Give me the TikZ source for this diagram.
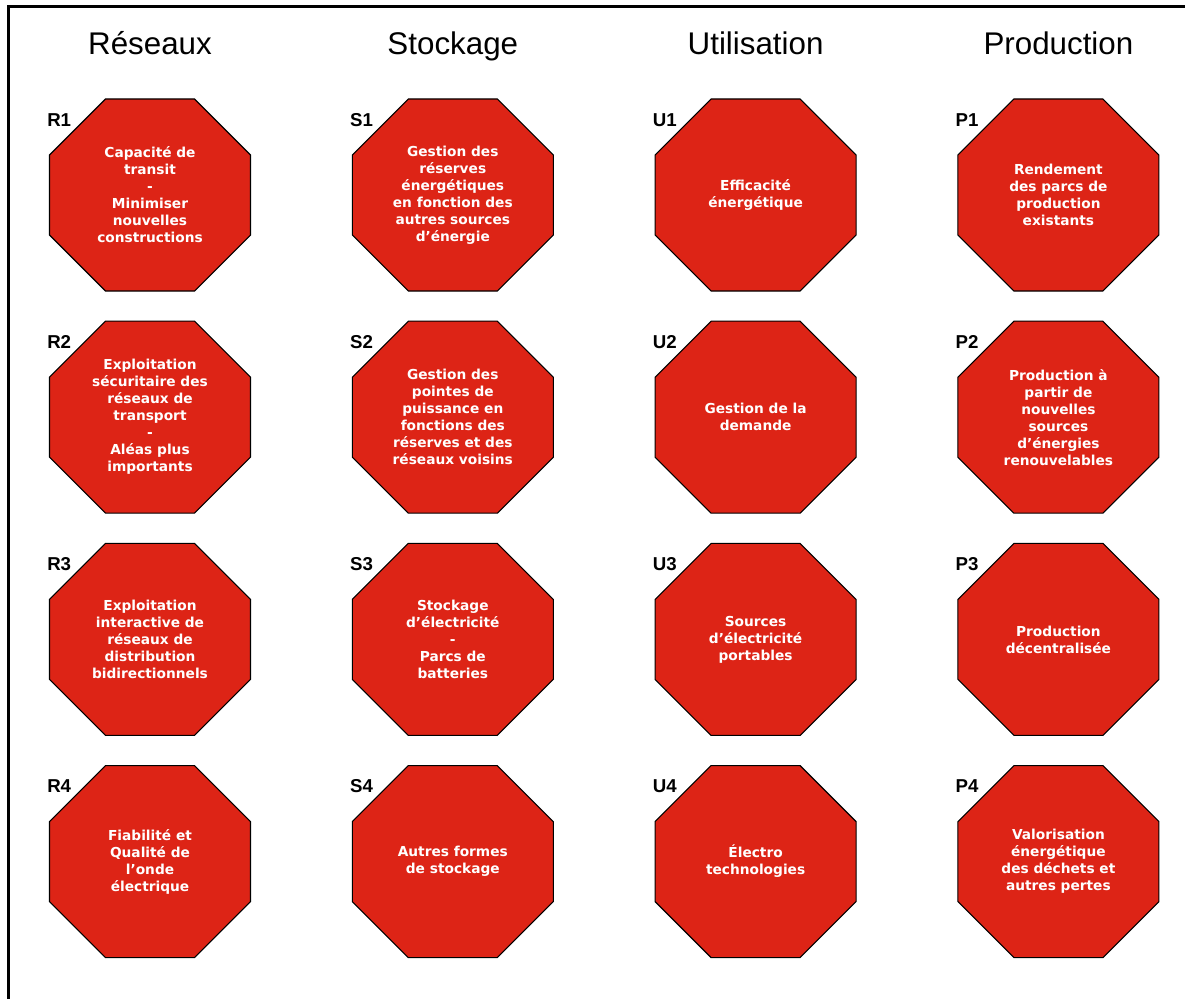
\documentclass[tikz,border=0pt]{standalone}
\usepackage{fontspec}
\setmainfont{Liberation Sans}
\newfontfamily\verd{DejaVu Sans}
\definecolor{stopred}{RGB}{221,36,22}
\tikzset{
  octo/.style={fill=stopred,draw=black,line width=0.8pt},
  goal/.style={text=white,align=center,inner sep=0pt,font=\verd\bfseries\fontsize{10.3}{12.75}\selectfont},
  tag/.style={anchor=base west,inner sep=0pt,font=\bfseries\fontsize{14}{16}\selectfont},
  head/.style={anchor=base,inner sep=0pt,font=\fontsize{23.5}{28}\selectfont},
}
\begin{document}
\begin{tikzpicture}[x=0.75pt,y=-0.75pt]
  \useasboundingbox (0,0) rectangle (1185,999);
  % Frame
  \draw[line width=1.6pt] (8.5,999) |- (1185,6.5);
  % Headings
  \node[head] (hres) at (150,55) {Réseaux};
  \node[head] (hsto) at (452.8,55) {Stockage};
  \node[head] (huti) at (755.6,55) {Utilisation};
  \node[head] (hpro) at (1058.4,55) {Production};
  % Octagons
  \foreach \cx in {150,452.8,755.6,1058.4}
    \foreach \cy in {195,417.2,639.4,861.6}
      \draw[octo] (\cx,\cy) ++(-44.5,-96) -- ++(89,0) -- ++(56,56) -- ++(0,80)
        -- ++(-56,56) -- ++(-89,0) -- ++(-56,-56) -- ++(0,-80) -- cycle;
  % Tags
  \foreach \cx/\l in {150/R,452.8/S,755.6/U,1058.4/P}
    \foreach \cy/\n in {195/1,417.2/2,639.4/3,861.6/4}
      \node[tag] (\l\n tag) at (\cx-103,\cy-69) {\l\n};
  % Reseaux
  \node[goal] (r1) at (150,195) {Capacité de\\transit\\-\\Minimiser\\nouvelles\\constructions};
  \node[goal] (r2) at (150,417.2) {Exploitation\\sécuritaire des\\réseaux de\\transport\\-\\Aléas plus\\importants};
  \node[goal] (r3) at (150,639.4) {Exploitation\\interactive de\\réseaux de\\distribution\\bidirectionnels};
  \node[goal] (r4) at (150,861.6) {Fiabilité et\\Qualité de\\l’onde\\électrique};
  % Stockage
  \node[goal] (s1) at (452.8,195) {Gestion des\\réserves\\énergétiques\\en fonction des\\autres sources\\d’énergie};
  \node[goal] (s2) at (452.8,417.2) {Gestion des\\pointes de\\puissance en\\fonctions des\\réserves et des\\réseaux voisins};
  \node[goal] (s3) at (452.8,639.4) {Stockage\\d’électricité\\-\\Parcs de\\batteries};
  \node[goal] (s4) at (452.8,861.6) {Autres formes\\de stockage};
  % Utilisation
  \node[goal] (u1) at (755.6,195) {Efficacité\\énergétique};
  \node[goal] (u2) at (755.6,417.2) {Gestion de la\\demande};
  \node[goal] (u3) at (755.6,639.4) {Sources\\d’électricité\\portables};
  \node[goal] (u4) at (755.6,861.6) {Électro\\technologies};
  % Production
  \node[goal] (p1) at (1058.4,195) {Rendement\\des parcs de\\production\\existants};
  \node[goal] (p2) at (1058.4,417.2) {Production à\\partir de\\nouvelles\\sources\\d’énergies\\renouvelables};
  \node[goal] (p3) at (1058.4,639.4) {Production\\décentralisée};
  \node[goal] (p4) at (1058.4,861.6) {Valorisation\\énergétique\\des déchets et\\autres pertes};
\end{tikzpicture}
\end{document}
